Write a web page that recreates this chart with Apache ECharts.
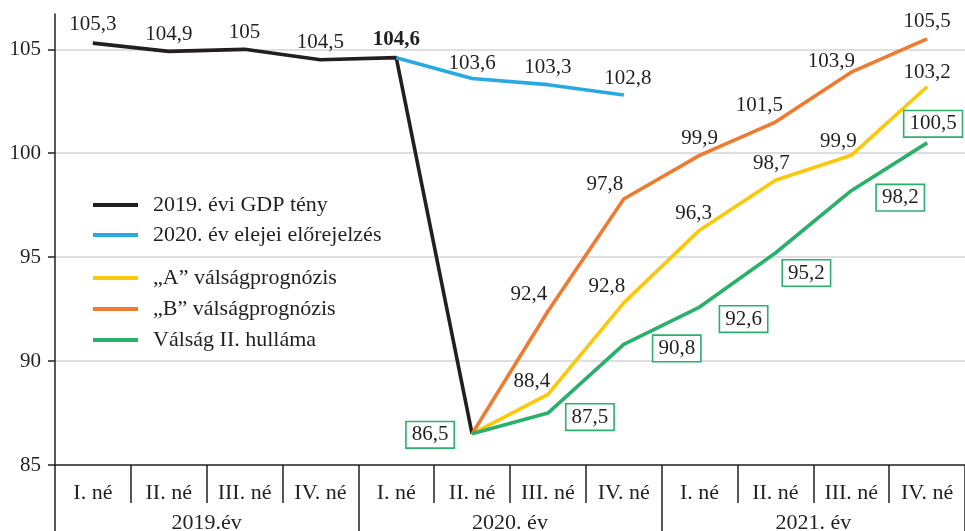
<!DOCTYPE html>
<html>
<head>
<meta charset="utf-8">
<script src="https://cdn.jsdelivr.net/npm/echarts@6/dist/echarts.min.js"></script>
<style>
  html, body { margin: 0; padding: 0; background: #fff; }
  #chart { width: 965px; height: 531px; }
</style>
</head>
<body>
<div id="chart"></div>
<script>
// negyedévek és évek
const quarters = ['I. né', 'II. né', 'III. né', 'IV. né', 'I. né', 'II. né', 'III. né', 'IV. né', 'I. né', 'II. né', 'III. né', 'IV. né'];
const years = ['2019.év', '2020. év', '2021. év'];
const yTicks = [85, 90, 95, 100, 105];

// adatsorok (null = nincs adat)
const gdp2019 = [105.3, 104.9, 105, 104.5, 104.6, 86.5, null, null, null, null, null, null];
const forecast2020 = [null, null, null, null, 104.6, 103.6, 103.3, 102.8, null, null, null, null];
const crisisA = [null, null, null, null, null, 86.5, 88.4, 92.8, 96.3, 98.7, 99.9, 103.2];
const crisisB = [null, null, null, null, null, 86.5, 92.4, 97.8, 99.9, 101.5, 103.9, 105.5];
const secondWave = [null, null, null, null, null, 86.5, 87.5, 90.8, 92.6, 95.2, 98.2, 100.5];

// címkék elhelyezése (index -> eltolás a ponthoz képest)
const labelPlace = {
    black: {0: [0, -19], 1: [0, -17], 2: [0, -17], 3: [0, -17], 4: [0, -18]},
    blue: {5: [0, -15], 6: [0, -17], 7: [4, -17]},
    yellow: {6: [-16, -13], 7: [-17, -16], 8: [-6, -17], 9: [-4, -17], 10: [-13, -14], 11: [0, -14]},
    orange: {6: [-19, -17], 7: [-19, -14], 8: [0, -17], 9: [-16, -17], 10: [-20, -11], 11: [0, -17]},
    green: {5: [-42, 1], 6: [42, 4], 7: [53, 4], 8: [44, 12], 9: [31, 20], 10: [49, 7], 11: [6, -19]}
};

const FONT = 'Liberation Serif';
const TXT = '#231f20';

function buildData(values, place, extra) {
    return values.map((v, i) => {
        if (v == null) return null;
        const off = place[i];
        if (!off) return {value: v, label: {show: false}};
        const lab = {show: true, offset: off};
        if (extra && extra[i]) Object.assign(lab, extra[i]);
        return {value: v, label: lab};
    });
}

function lineSeries(name, values, color, place, boxed, extra) {
    const label = {
        show: true,
        position: 'inside',
        fontFamily: FONT,
        fontSize: 21,
        color: TXT,
        formatter: p => String(p.value).replace('.', ',')
    };
    if (boxed) {
        Object.assign(label, {
            backgroundColor: '#fff',
            borderColor: color,
            borderWidth: 1.6,
            padding: [3, 5, 1, 5]
        });
    }
    return {
        name: name,
        type: 'line',
        data: buildData(values, place, extra),
        symbol: 'circle',
        symbolSize: 1,
        showSymbol: true,
        itemStyle: {color: color},
        lineStyle: {color: color, width: 3.6},
        label: label,
        emphasis: {disabled: true}
    };
}

const legendText = {fontFamily: FONT, fontSize: 22, lineHeight: 22, color: TXT, padding: [0, 0, 0, 10]};

const chart = echarts.init(document.getElementById('chart'));
chart.setOption({
    animation: false,
    backgroundColor: '#fff',
    textStyle: {fontFamily: FONT},
    grid: {left: 55, right: 0, top: 14, bottom: 66, outerBoundsMode: 'none', containLabel: false},
    legend: [
        {
            data: ['2019. évi GDP tény', '2020. év elejei előrejelzés'],
            left: 93, top: 194, orient: 'vertical', padding: 0,
            itemWidth: 45, itemHeight: 4, itemGap: 8, icon: 'rect',
            selectedMode: false,
            textStyle: legendText
        },
        {
            data: ['„A” válságprognózis', '„B” válságprognózis', 'Válság II. hulláma'],
            left: 93, top: 267, orient: 'vertical', padding: 0,
            itemWidth: 45, itemHeight: 4, itemGap: 9, icon: 'rect',
            selectedMode: false,
            textStyle: legendText
        }
    ],
    xAxis: [
        {
            type: 'category',
            data: quarters,
            position: 'bottom',
            axisLine: {show: true, lineStyle: {color: TXT, width: 1.5}},
            axisTick: {show: true, interval: 0, length: 38, lineStyle: {color: TXT, width: 1.5}},
            axisLabel: {fontFamily: FONT, fontSize: 22, color: TXT, margin: 17, interval: 0}
        },
        {
            type: 'category',
            data: years,
            position: 'bottom',
            axisLine: {show: false},
            axisTick: {show: true, interval: 0, length: 66, lineStyle: {color: TXT, width: 1.5}},
            axisLabel: {fontFamily: FONT, fontSize: 22, color: TXT, margin: 47, interval: 0}
        }
    ],
    yAxis: {
        type: 'value',
        min: 85,
        max: 106.7,
        interval: 5,
        axisLine: {show: true, lineStyle: {color: TXT, width: 1.5}},
        axisTick: {show: true, length: 7, customValues: yTicks, lineStyle: {color: TXT, width: 1.5}},
        axisLabel: {fontFamily: FONT, fontSize: 21, color: TXT, margin: 14, customValues: yTicks},
        splitLine: {
            show: true,
            lineStyle: {
                color: ['rgba(0,0,0,0)', '#d4d4d4', '#d4d4d4', '#d4d4d4', '#d4d4d4', 'rgba(0,0,0,0)'],
                width: 1.5
            }
        }
    },
    series: [
        lineSeries('2019. évi GDP tény', gdp2019, '#231f20', labelPlace.black, false, {4: {fontWeight: 'bold'}}),
        lineSeries('2020. év elejei előrejelzés', forecast2020, '#29a9e1', labelPlace.blue, false),
        lineSeries('„A” válságprognózis', crisisA, '#fcc80b', labelPlace.yellow, false),
        lineSeries('„B” válságprognózis', crisisB, '#ee7b30', labelPlace.orange, false),
        lineSeries('Válság II. hulláma', secondWave, '#2bb06c', labelPlace.green, true)
    ]
});
</script>
</body>
</html>
